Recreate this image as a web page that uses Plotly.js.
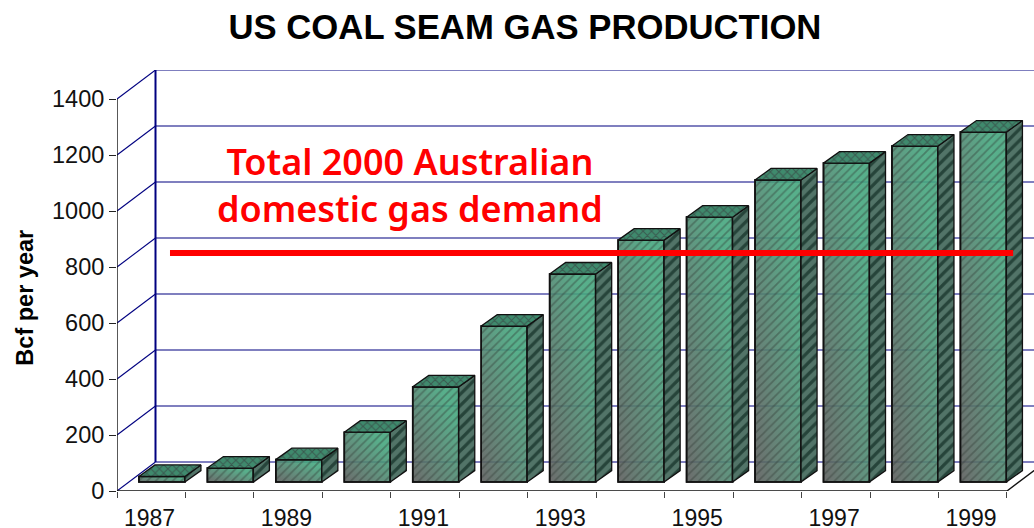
<!DOCTYPE html>
<html><head><meta charset="utf-8">
<script src="https://cdn.plot.ly/plotly-3.0.1.min.js"></script>
<style>html,body{margin:0;padding:0;background:#fff;overflow:hidden}</style>
</head><body><div id="chart" style="width:1034px;height:528px"></div>
<script>
const years = ["1987","1988","1989","1990","1991","1992","1993","1994","1995","1996","1997","1998","1999"];
const production = [20,50,80,178,340,557,743,864,946,1079,1139,1200,1250];
const demand2000 = 850;
const yTicks = [0,200,400,600,800,1000,1200,1400];

// projection constants of the pseudo-3D box, in axis units
const wallDX = 0.5624, wallDY = 103.6;   // floor depth
const barDX = 0.234, barDY = 41;         // bar depth
const barInsetX = 0.656, barBase = 32, barW = 0.672;
const xMax = 13.395, yMax = 1503.6;

const n = years.length;
const centers = years.map((_, i) => i + barInsetX);
const labelPos = years.map((_, i) => i + 0.475);

let gx = [], gy = [];
yTicks.forEach(v => { gx.push(wallDX, 13 + wallDX, null); gy.push(v + wallDY, v + wallDY, null); });
let dx = [], dy = [];
yTicks.forEach(v => { dx.push(0, wallDX, null); dy.push(v, v + wallDY, null); });
let sideX = [], sideY = [], topX = [], topY = [];
production.forEach((v, i) => {
  const L = centers[i] - barW/2, R = centers[i] + barW/2, B = barBase, T = barBase + v;
  sideX.push(R, R+barDX, R+barDX, R, R, null); sideY.push(B, B+barDY, T+barDY, T, B, null);
  topX.push(L, L+barDX, R+barDX, R, L, null); topY.push(T, T+barDY, T+barDY, T, T, null);
});
const navy = "#000080";
const traces = [
  {type:"scatter",mode:"lines",x:gx,y:gy,line:{color:navy,width:1.1},hoverinfo:"skip",zorder:-1,cliponaxis:false},
  {type:"scatter",mode:"lines",x:dx,y:dy,line:{color:navy,width:1.1},hoverinfo:"skip",zorder:-1,cliponaxis:false},
  {type:"scatter",mode:"lines",x:[wallDX,wallDX],y:[wallDY,1400+wallDY],line:{color:navy,width:2},hoverinfo:"skip",zorder:-1,cliponaxis:false},
  {type:"bar",x:centers,y:production,base:barBase,width:barW,marker:{color:"#4aa882",line:{color:"#111",width:1.6}},hoverinfo:"skip"},
  {type:"bar",x:centers,y:production,base:barBase,width:barW,marker:{color:"rgba(0,0,0,0)",line:{color:"#111",width:1.6},pattern:{shape:"/",size:6,solidity:0.3,fgcolor:"rgba(50,60,55,0.42)",bgcolor:"rgba(0,0,0,0)"}},hoverinfo:"skip"},
  {type:"scatter",mode:"lines",x:sideX,y:sideY,fill:"toself",fillcolor:"#4c6e61",fillpattern:{shape:"/",size:8,solidity:0.4,fgcolor:"#26443a",bgcolor:"#527468"},line:{color:"#111",width:1.3},zorder:1,hoverinfo:"skip"},
  {type:"scatter",mode:"lines",x:topX,y:topY,fill:"toself",fillcolor:"#3f8a6d",fillpattern:{shape:"x",size:6,solidity:0.3,fgcolor:"#3a5a50",bgcolor:"#3f8a6d"},line:{color:"#111",width:1.3},zorder:1,hoverinfo:"skip"},
  {type:"scatter",mode:"lines",x:[0.774,13.09],y:[demand2000,demand2000],line:{color:"#ff0000",width:6},zorder:2,hoverinfo:"skip"},
  {type:"scatter",mode:"lines",xaxis:"x2",x:[0,0],y:[0,1400],line:{color:"#111",width:1.4},hoverinfo:"skip",cliponaxis:false},
  {type:"scatter",mode:"lines",xaxis:"x2",x:[0,13,13+wallDX],y:[0,0,wallDY],line:{color:"#111",width:1.4},hoverinfo:"skip",cliponaxis:false}
];
const base = "Liberation Sans, Arial, sans-serif";
const layout = {
  width:1034,height:528,showlegend:false,paper_bgcolor:"#fff",plot_bgcolor:"#fff",barmode:"overlay",
  margin:{l:117,r:0,t:70,b:37,pad:0},
  title:{text:"US COAL SEAM GAS PRODUCTION",font:{family:base,size:34.7,color:"#000",weight:700},x:0.5077,xanchor:"center",y:0.949,yanchor:"middle"},
  xaxis:{range:[0,xMax],tickmode:"array",tickvals:labelPos.filter((_,i)=>i%2===0),ticktext:years.filter((_,i)=>i%2===0),
         ticks:"outside",ticklen:6,tickcolor:"rgba(0,0,0,0)",tickfont:{family:base,size:23,color:"#111"},showgrid:false,zeroline:false,showline:false,fixedrange:true},
  xaxis2:{range:[0,xMax],overlaying:"x",anchor:"y",side:"bottom",tickmode:"array",tickvals:years.map((_,i)=>i).concat([n]),ticktext:[],showticklabels:false,
         ticks:"outside",ticklen:6,tickcolor:"#444",tickwidth:1,showgrid:false,zeroline:false,showline:false,fixedrange:true},
  yaxis:{range:[0,yMax],tickmode:"array",tickvals:yTicks,ticks:"outside",ticklen:7,tickcolor:"#222",tickwidth:1,tickfont:{family:base,size:23.5,color:"#111"},showgrid:false,zeroline:false,showline:false,fixedrange:true},
  annotations:[
    {text:"Bcf per year",textangle:-90,xref:"paper",yref:"paper",x:-0.1,y:0.46,showarrow:false,font:{family:base,size:23.5,color:"#000",weight:700},xanchor:"center",yanchor:"middle"},
    {text:"Total 2000 Australian<br>domestic gas demand",xref:"x",yref:"y",x:4.28,y:1094,showarrow:false,align:"center",font:{family:"Noto Sans",size:36,color:"#ff0000",weight:600},xanchor:"center",yanchor:"middle"}
  ]
};
Plotly.newPlot("chart",traces,layout,{staticPlot:true,displayModeBar:false}).then(gd=>{
  const svg = gd.querySelector("svg.main-svg");
  const NS = "http://www.w3.org/2000/svg";
  const defs = document.createElementNS(NS,"defs");
  const g = document.createElementNS(NS,"linearGradient");
  g.setAttribute("id","frontGrad");g.setAttribute("x1","0");g.setAttribute("y1","1");g.setAttribute("x2","1");g.setAttribute("y2","0");
  [["0","#5c5c5c"],["0.5","#4f8a72"],["0.8","#45a67e"],["1","#45a67e"]].forEach(s=>{
    const st=document.createElementNS(NS,"stop");st.setAttribute("offset",s[0]);st.setAttribute("stop-color",s[1]);st.setAttribute("stop-opacity","0.9");g.appendChild(st);});
  defs.appendChild(g);svg.insertBefore(defs,svg.firstChild);
  [...gd.querySelectorAll(".point path")].forEach(p=>{
    if(!(p.style.fill||"").startsWith("url")) {p.style.fill="url(#frontGrad)";p.style.fillOpacity="1";}
  });
});
</script></body></html>
